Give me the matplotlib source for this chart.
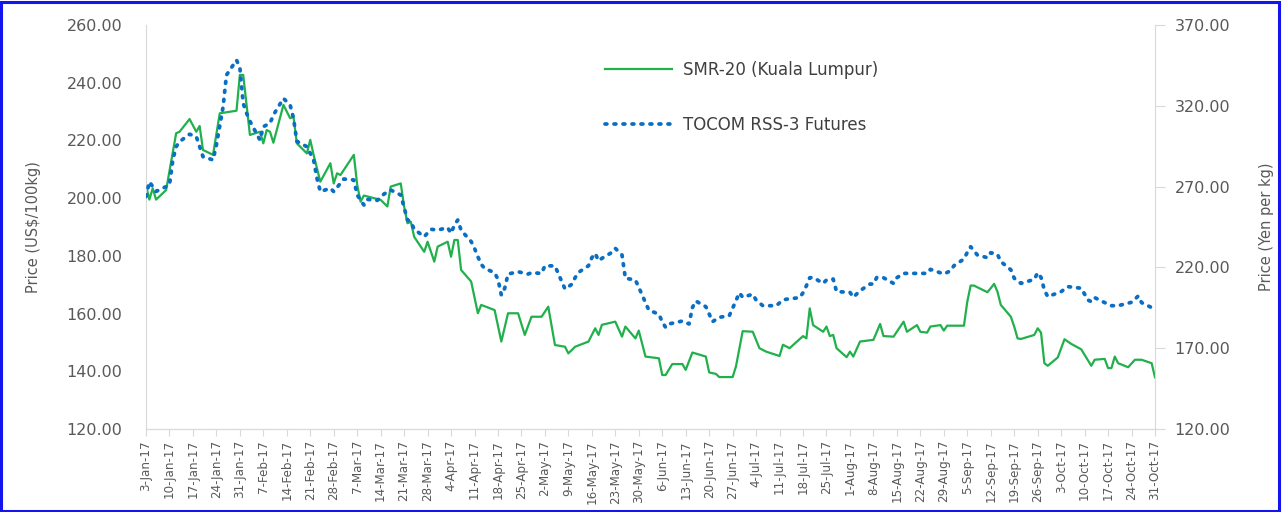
import pandas as pd
import matplotlib
matplotlib.use("Agg")
import matplotlib.pyplot as plt
from matplotlib.patches import Rectangle

# SMR-20 (Kuala Lumpur), US$/100kg  -> left axis
smr_dates = [
    "01-03", "01-04", "01-05", "01-06", "01-09", "01-12", "01-13", "01-16", "01-18", "01-19",
    "01-20", "01-23", "01-25", "01-30", "01-31", "02-01", "02-03", "02-06", "02-07", "02-08",
    "02-09", "02-10", "02-13", "02-15", "02-16", "02-17", "02-20", "02-21", "02-22", "02-24",
    "02-27", "02-28", "03-01", "03-02", "03-06", "03-07", "03-08", "03-09", "03-14", "03-16",
    "03-17", "03-20", "03-21", "03-22", "03-23", "03-24", "03-27", "03-28", "03-30", "03-31",
    "04-03", "04-04", "04-05", "04-06", "04-07", "04-10", "04-12", "04-13", "04-17", "04-19",
    "04-21", "04-24", "04-26", "04-28", "05-01", "05-03", "05-05", "05-08", "05-09", "05-11",
    "05-15", "05-17", "05-18", "05-19", "05-23", "05-25", "05-26", "05-29", "05-30", "06-01",
    "06-05", "06-06", "06-07", "06-09", "06-12", "06-13", "06-15", "06-19", "06-20", "06-22",
    "06-23", "06-27", "06-28", "06-30", "07-03", "07-05", "07-07", "07-11", "07-12", "07-14",
    "07-18", "07-19", "07-20", "07-21", "07-24", "07-25", "07-26", "07-27", "07-28", "07-31",
    "08-01", "08-02", "08-04", "08-08", "08-10", "08-11", "08-14", "08-17", "08-18", "08-21",
    "08-22", "08-24", "08-25", "08-28", "08-29", "08-30", "09-04", "09-05", "09-06", "09-07",
    "09-11", "09-12", "09-13", "09-14", "09-15", "09-18", "09-19", "09-20", "09-21", "09-25",
    "09-26", "09-27", "09-28", "09-29", "10-02", "10-04", "10-06", "10-09", "10-10", "10-12",
    "10-13", "10-16", "10-17", "10-18", "10-19", "10-20", "10-23", "10-25", "10-27", "10-30",
    "10-31",
]
smr_vals = [
    204.5, 199.5, 203.4, 199.5, 202.8, 222.5, 223.0, 227.4, 223.0, 225.0,
    216.7, 215.0, 229.4, 230.3, 242.7, 242.7, 221.9, 223.0, 219.0, 223.6,
    223.0, 219.2, 232.3, 227.7, 228.2, 219.0, 215.5, 220.2, 215.0, 205.7,
    212.1, 205.1, 208.6, 208.0, 215.0, 204.6, 198.8, 200.9, 199.4, 197.1,
    204.0, 205.1, 197.1, 191.3, 191.8, 186.6, 181.4, 184.9, 178.0, 183.2,
    184.9, 179.7, 185.5, 185.5, 175.1, 171.1, 160.1, 163.0, 161.2, 150.3,
    160.1, 160.1, 152.6, 158.9, 158.9, 162.4, 149.1, 148.5, 146.2, 148.5,
    150.3, 154.9, 152.6, 156.1, 157.2, 152.0, 155.5, 151.4, 154.1, 145.1,
    144.5, 138.7, 138.7, 142.5, 142.5, 140.5, 146.5, 145.1, 139.6, 139.1,
    138.0, 138.0, 141.7, 153.9, 153.7, 148.0, 146.8, 145.3, 149.2, 148.0,
    152.2, 151.4, 161.8, 156.0, 153.7, 155.5, 152.2, 152.6, 148.0, 144.9,
    146.8, 145.1, 150.3, 150.9, 156.4, 152.2, 152.0, 157.2, 153.7, 156.0,
    153.7, 153.4, 155.5, 156.0, 154.1, 155.8, 155.8, 164.1, 169.7, 169.7,
    167.4, 168.8, 170.3, 167.6, 163.0, 158.9, 155.5, 151.4, 151.2, 152.6,
    154.9, 153.4, 142.8, 141.9, 144.8, 151.1, 149.5, 147.6, 145.7, 141.9,
    144.0, 144.3, 141.1, 141.1, 145.1, 142.8, 141.4, 144.0, 144.0, 142.8,
    137.9,
]

# TOCOM RSS-3 Futures, Yen per kg  -> right axis
tocom_dates = [
    "01-03", "01-04", "01-05", "01-06", "01-10", "01-11", "01-12", "01-13", "01-16", "01-18",
    "01-20", "01-23", "01-24", "01-26", "01-27", "01-30", "01-31", "02-01", "02-02", "02-03",
    "02-06", "02-07", "02-09", "02-10", "02-13", "02-15", "02-16", "02-17", "02-20", "02-22",
    "02-23", "02-24", "02-27", "02-28", "03-03", "03-06", "03-07", "03-09", "03-10", "03-13",
    "03-15", "03-17", "03-20", "03-21", "03-22", "03-23", "03-24", "03-27", "03-29", "03-31",
    "04-03", "04-04", "04-05", "04-06", "04-07", "04-10", "04-11", "04-12", "04-13", "04-14",
    "04-17", "04-18", "04-19", "04-20", "04-21", "04-24", "04-27", "04-28", "05-01", "05-02",
    "05-05", "05-08", "05-10", "05-11", "05-12", "05-15", "05-16", "05-17", "05-18", "05-19",
    "05-22", "05-23", "05-25", "05-26", "05-29", "05-30", "05-31", "06-01", "06-02", "06-05",
    "06-06", "06-07", "06-08", "06-12", "06-14", "06-15", "06-16", "06-19", "06-20", "06-21",
    "06-23", "06-26", "06-27", "06-28", "06-29", "06-30", "07-03", "07-04", "07-06", "07-10",
    "07-12", "07-13", "07-17", "07-18", "07-19", "07-20", "07-21", "07-24", "07-25", "07-27",
    "07-28", "08-01", "08-02", "08-04", "08-07", "08-08", "08-09", "08-11", "08-14", "08-15",
    "08-17", "08-21", "08-24", "08-25", "08-29", "08-31", "09-01", "09-04", "09-05", "09-06",
    "09-08", "09-11", "09-12", "09-14", "09-15", "09-18", "09-19", "09-21", "09-25", "09-26",
    "09-27", "09-28", "09-29", "10-03", "10-05", "10-09", "10-10", "10-11", "10-12", "10-13",
    "10-16", "10-18", "10-20", "10-24", "10-26", "10-27", "10-31",
]
tocom_vals = [
    263.8, 273.0, 270.0, 267.0, 271.0, 286.5, 294.7, 297.8, 302.4, 301.0,
    288.5, 286.5, 295.7, 319.4, 339.0, 348.3, 343.6, 321.5, 315.4, 310.5,
    298.8, 307.1, 309.2, 314.3, 324.6, 320.5, 312.3, 298.0, 294.7, 286.5,
    275.1, 266.9, 269.0, 266.9, 274.7, 274.1, 264.8, 258.6, 262.1, 261.5,
    265.4, 267.9, 264.8, 257.0, 249.3, 248.3, 243.6, 239.0, 243.6, 243.1,
    244.6, 241.1, 246.2, 249.3, 243.0, 236.0, 231.8, 226.6, 221.9, 219.4,
    216.7, 212.6, 202.9, 207.0, 215.9, 217.3, 215.9, 216.7, 216.3, 221.0,
    220.9, 206.6, 209.5, 213.6, 216.9, 221.0, 226.0, 228.7, 224.1, 225.6,
    229.3, 231.8, 227.7, 213.3, 212.2, 207.7, 202.9, 198.2, 193.6, 191.0,
    186.4, 182.9, 185.0, 186.8, 185.0, 195.1, 199.2, 195.7, 191.2, 186.4,
    189.1, 190.1, 194.7, 199.4, 204.3, 201.5, 203.4, 199.8, 196.3, 196.3,
    199.8, 200.3, 201.3, 204.3, 208.6, 213.6, 213.8, 210.1, 212.2, 212.8,
    205.0, 204.6, 201.5, 205.6, 209.7, 209.7, 213.8, 213.6, 210.1, 213.6,
    216.3, 216.3, 216.3, 218.8, 215.9, 217.9, 221.0, 225.2, 229.3, 232.8,
    227.7, 226.0, 229.1, 228.1, 223.6, 218.5, 213.3, 210.1, 212.6, 216.7,
    213.8, 206.0, 201.9, 205.0, 208.1, 207.1, 203.4, 199.8, 198.8, 201.3,
    198.2, 196.3, 196.3, 198.4, 202.3, 198.2, 194.1,
]

smr_x = pd.to_datetime(["2017-" + d for d in smr_dates])
tocom_x = pd.to_datetime(["2017-" + d for d in tocom_dates])
week_ticks = pd.date_range("2017-01-03", "2017-10-31", freq="7D")

GREEN = "#21b04b"
BLUE = "#0a6fc4"
GREY = "#595959"
AXIS = "#d9d9d9"

plt.rcParams["font.family"] = ["DejaVu Sans"]

fig = plt.figure(figsize=(12.82, 5.12), dpi=100)
ax = fig.add_axes([146 / 1282, 1 - 429 / 512, (1155 - 146) / 1282, (429 - 25) / 512])
ax2 = ax.twinx()

l1, = ax.plot(smr_x, smr_vals, color=GREEN, lw=1.6, label="SMR-20 (Kuala Lumpur)")
l2, = ax2.plot(tocom_x, tocom_vals, color=BLUE, lw=2.7, ls=(0, (0.5, 1.9)),
               dash_capstyle="round", label="TOCOM RSS-3 Futures")

ax.set_xlim(pd.Timestamp("2017-01-03"), pd.Timestamp("2017-10-31"))
ax.set_ylim(120, 260)
ax2.set_ylim(120, 370)
ax.set_yticks(range(120, 261, 20))
ax2.set_yticks(range(120, 371, 50))
ax.yaxis.set_major_formatter(lambda v, p: f"{v:.2f}")
ax2.yaxis.set_major_formatter(lambda v, p: f"{v:.2f}")

ax.set_xticks(week_ticks)
ax.set_xticklabels([f"{d.day}-{d.strftime('%b-%y')}" for d in week_ticks],
                   rotation=90, fontsize=8.6, color=GREY)

for a in (ax, ax2):
    for s in a.spines.values():
        s.set_color(AXIS)
    a.spines["top"].set_visible(False)
ax.spines["right"].set_visible(False)
ax2.spines["left"].set_visible(False)

ax.tick_params(axis="x", direction="out", length=5, color=AXIS, pad=3)
ax.tick_params(axis="y", length=0, labelsize=11.5, labelcolor=GREY, pad=17)
ax2.tick_params(axis="y", direction="out", length=7, color=AXIS,
                labelsize=11.5, labelcolor=GREY, pad=7)

ax.set_ylabel("Price (US$/100kg)", fontsize=10.5, color=GREY, labelpad=18)
ax2.set_ylabel("Price (Yen per kg)", fontsize=10.5, color=GREY, labelpad=21)

fig.legend(handles=[l1, l2], loc="upper left", bbox_to_anchor=(605 / 1282, 1 - 61 / 512),
           frameon=False, fontsize=12, labelcolor="#404040", handlelength=4.0,
           handletextpad=0.7, labelspacing=2.2, borderpad=0, borderaxespad=0)

fig.patches.append(Rectangle((0.001, 0.002), 0.997, 0.995, transform=fig.transFigure,
                             fill=False, edgecolor="#1414f0", lw=2.2))

fig.savefig("out.png", dpi=100)
